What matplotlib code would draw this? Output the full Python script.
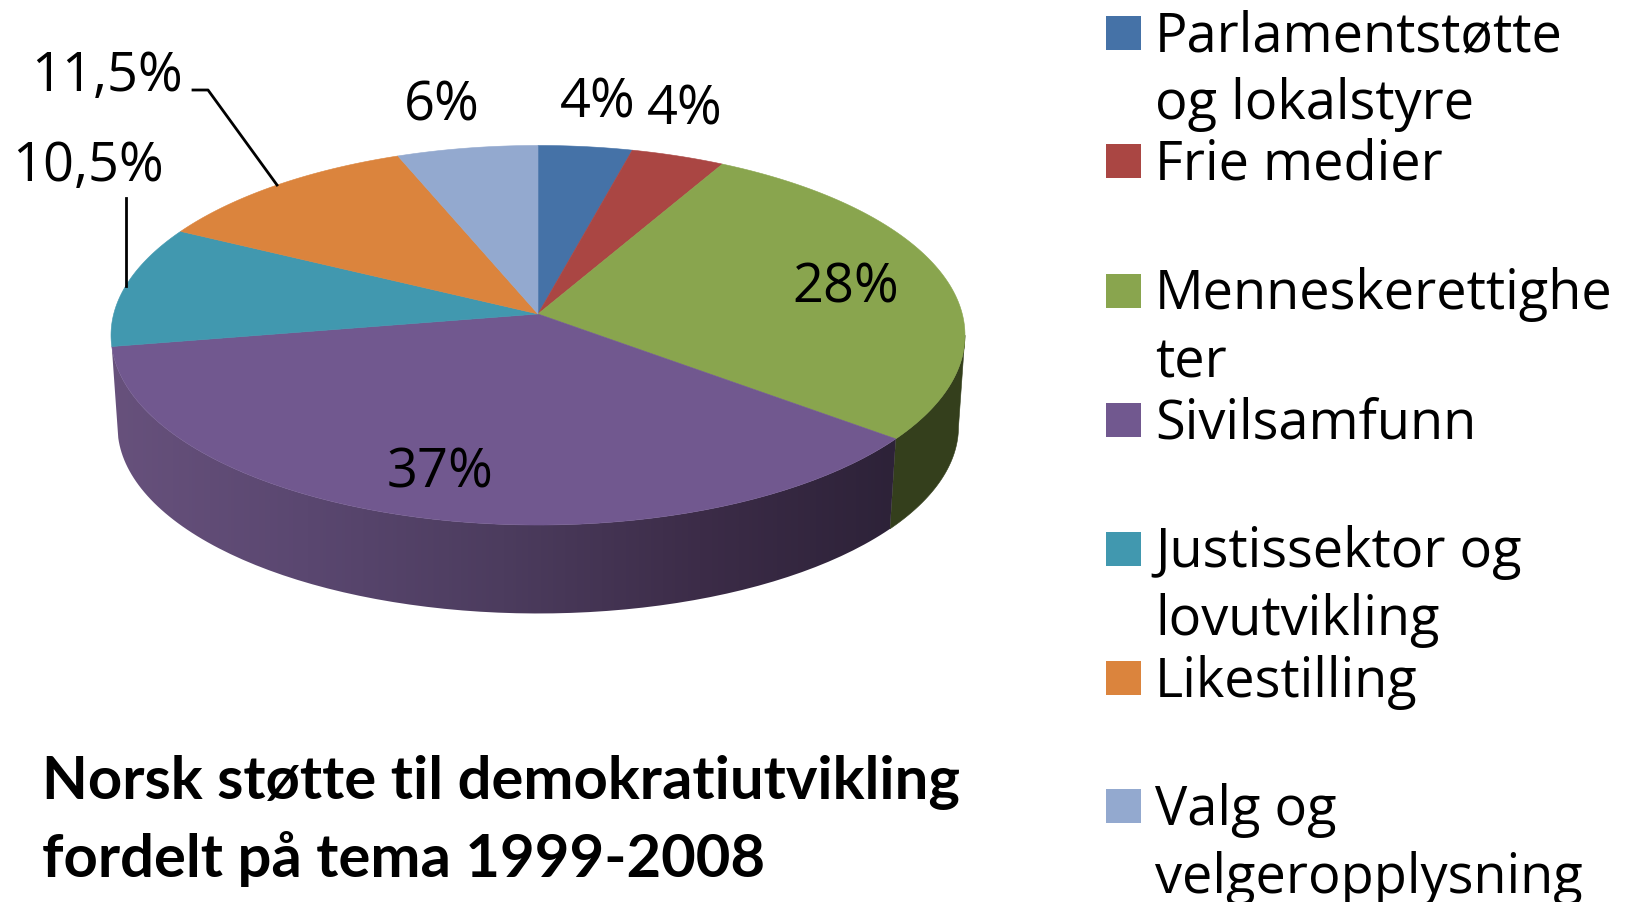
import numpy as np
import matplotlib
matplotlib.use('Agg')
import matplotlib.pyplot as plt
from matplotlib.colors import LinearSegmentedColormap
from matplotlib.patches import PathPatch, Rectangle
from matplotlib.path import Path

categories = ['Parlamentstøtte\nog lokalstyre', 'Frie medier', 'Menneskerettighe\nter', 'Sivilsamfunn',
              'Justissektor og\nlovutvikling', 'Likestilling', 'Valg og\nvelgeropplysning']
values = [4, 4, 28, 37, 10.5, 11.5, 6]
value_labels = ['4%', '4%', '28%', '37%', '10,5%', '11,5%', '6%']
colors = ['#4572a7', '#aa4643', '#89a54e', '#71588f', '#4198af', '#db843d', '#93a9cf']
title_lines = ['Norsk støtte til demokratiutvikling', 'fordelt på tema 1999-2008']

# pie geometry in image pixels, with a bit of perspective
cx, cy = 538, 314
A, B, k = 424.3, 187.4, 0.112
depth = 92
wall_scale = 0.985


def project(theta, r=1.0, dy=0.0):
    u, v = r * np.sin(theta), r * np.cos(theta)
    w = 1 + k * v
    return cx + A * u / w, cy - B * v / w + dy


def rim(t0, t1, n=120, r=1.0, dy=0.0):
    t = np.linspace(t0, t1, n)
    x, y = project(t, r, dy)
    return np.column_stack([x, y])


def wall_outline(t0, t1):
    top = rim(t0, t1)
    low = rim(t0, t1, r=wall_scale, dy=depth)
    return np.vstack([top, low[::-1], top[:1]])


fig = plt.figure(figsize=(16.29, 9.02), dpi=100)
ax = fig.add_axes([0, 0, 1, 1])

edges = np.concatenate([[0], np.cumsum(values)]) / sum(values) * 2 * np.pi

# green wall on the right, from the widest point of the rim
pts = wall_outline(np.arccos(-k), edges[3])
ax.fill(pts[:, 0], pts[:, 1], color='#343f1c', lw=0.4, zorder=1)

# purple wall along the front, shaded from left to right
wall_cmap = LinearSegmentedColormap.from_list('wall', ['#67517c', '#5a4770', '#4c3c5e', '#3c2c48', '#2d2238'])
pts = wall_outline(edges[3], edges[4])
im = ax.imshow(np.linspace(0, 1, 512)[None, :], cmap=wall_cmap, extent=(pts[:, 0].min(), pts[:, 0].max(), 700, 300),
               aspect='auto', zorder=1)
clip = PathPatch(Path(pts), facecolor='none', edgecolor='none', transform=ax.transData)
ax.add_patch(clip)
im.set_clip_path(clip)

# top face
for i in range(len(values)):
    pts = np.vstack([[cx, cy], rim(edges[i], edges[i + 1])])
    ax.fill(pts[:, 0], pts[:, 1], color=colors[i], lw=0.4, zorder=2)

# value labels
label_pos = [(598, 103), (685, 110), (846, 288), (440, 473), (88, 166), (107, 76), (442, 106)]
for txt, (x, y) in zip(value_labels, label_pos):
    ax.text(x, y, txt, family='Open Sans', fontsize=39, color='black', ha='center', va='center', zorder=4)

# leader lines
ax.plot([193, 208, 277], [90, 90, 185], color='black', lw=2, zorder=3)
ax.plot([126, 126], [198, 286], color='black', lw=2, zorder=3)

# legend
row_y = [33, 161, 291, 420, 549, 678, 806]
for name, color, y in zip(categories, colors, row_y):
    ax.add_patch(Rectangle((1106, y - 17), 35, 34, facecolor=color, edgecolor='none', zorder=3))
    for j, line in enumerate(name.split('\n')):
        ax.text(1155, y + 4 + j * 68, line, family='Open Sans', fontsize=39, color='black', ha='left', va='center')

# title
ax.text(42, 783, title_lines[0], family='Lato', weight='bold', fontsize=43, color='black', ha='left', va='center')
ax.text(42, 859, title_lines[1], family='Lato', weight='bold', fontsize=43, color='black', ha='left', va='center')

ax.set_xlim(0, 1629)
ax.set_ylim(902, 0)
ax.axis('off')

fig.savefig('out.png', dpi=100)
